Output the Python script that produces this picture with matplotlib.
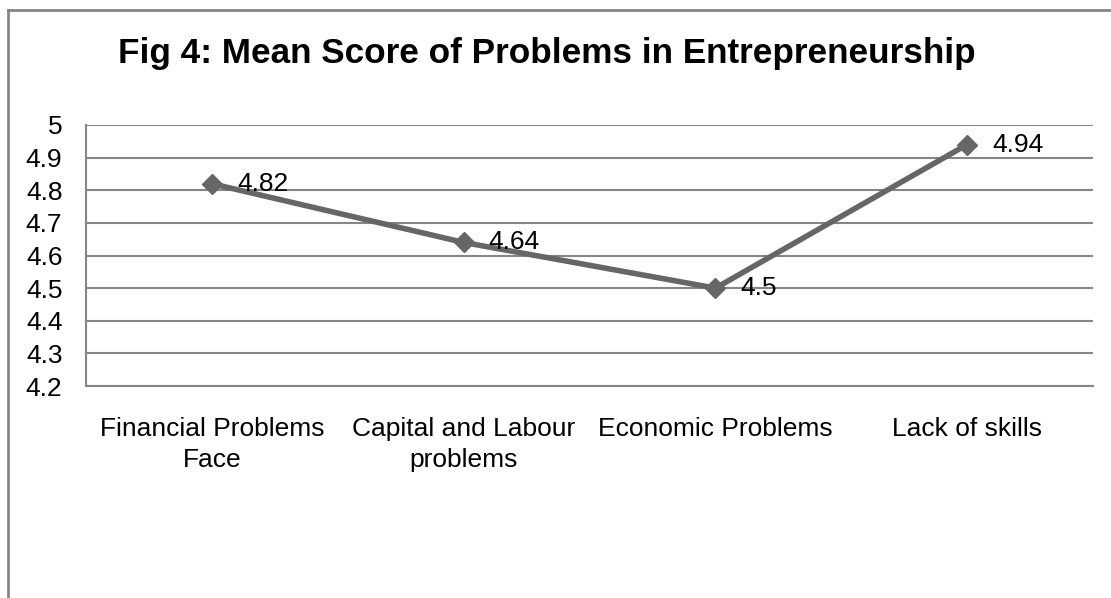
import matplotlib.pyplot as plt
from matplotlib.lines import Line2D

plt.rcParams['font.family'] = ['Liberation Sans', 'DejaVu Sans']

# Data
categories = ['Financial Problems\nFace', 'Capital and Labour\nproblems',
              'Economic Problems', 'Lack of skills']
mean_scores = [4.82, 4.64, 4.5, 4.94]
y_ticks = [4.2, 4.3, 4.4, 4.5, 4.6, 4.7, 4.8, 4.9, 5]
y_labels = ['4.2', '4.3', '4.4', '4.5', '4.6', '4.7', '4.8', '4.9', '5']

W, H = 1111, 598
fig = plt.figure(figsize=(W / 100, H / 100), dpi=100)

# plot area in pixels
left, right, top, bottom = 86, 1093, 125, 386
ax = fig.add_axes([left / W, 1 - bottom / H, (right - left) / W, (bottom - top) / H])

grid_col = '#868686'
line_col = '#666666'
fs = 19

x = list(range(len(categories)))
ax.plot(x, mean_scores, color=line_col, lw=4, marker='D', ms=10,
        markerfacecolor=line_col, markeredgecolor=line_col, zorder=3)

for xi, v in zip(x, mean_scores):
    ax.annotate(f'{v:g}', (xi, v), xytext=(18, 0), textcoords='offset points',
                ha='left', va='center', fontsize=fs, color='black', zorder=4)

ax.set_xlim(-0.5, len(categories) - 0.5)
ax.set_ylim(4.2, 5)
ax.set_yticks(y_ticks)
ax.set_yticklabels(y_labels, fontsize=fs)
ax.set_xticks(x)
ax.set_xticklabels(categories, fontsize=fs, linespacing=1.38)
ax.tick_params(axis='both', length=0, colors='black')
ax.tick_params(axis='x', pad=22)
ax.tick_params(axis='y', pad=17)

ax.yaxis.grid(True, color=grid_col, lw=1.5)
ax.set_axisbelow(True)
for s in ['top', 'right']:
    ax.spines[s].set_visible(False)
for s in ['left', 'bottom']:
    ax.spines[s].set_color(grid_col)
    ax.spines[s].set_linewidth(1.5)

fig.text(547 / W, 1 - 53 / H, 'Fig 4: Mean Score of Problems in Entrepreneurship',
         ha='center', va='center', fontsize=25.3, fontweight='bold')

# outer chart border (only top and left edges visible)
fig.add_artist(Line2D([8 / W, 1], [1 - 9.5 / H, 1 - 9.5 / H],
                      transform=fig.transFigure, color=grid_col, lw=2))
fig.add_artist(Line2D([8 / W, 8 / W], [0, 1 - 9.5 / H],
                      transform=fig.transFigure, color=grid_col, lw=2))

fig.savefig('out.png', dpi=100)
